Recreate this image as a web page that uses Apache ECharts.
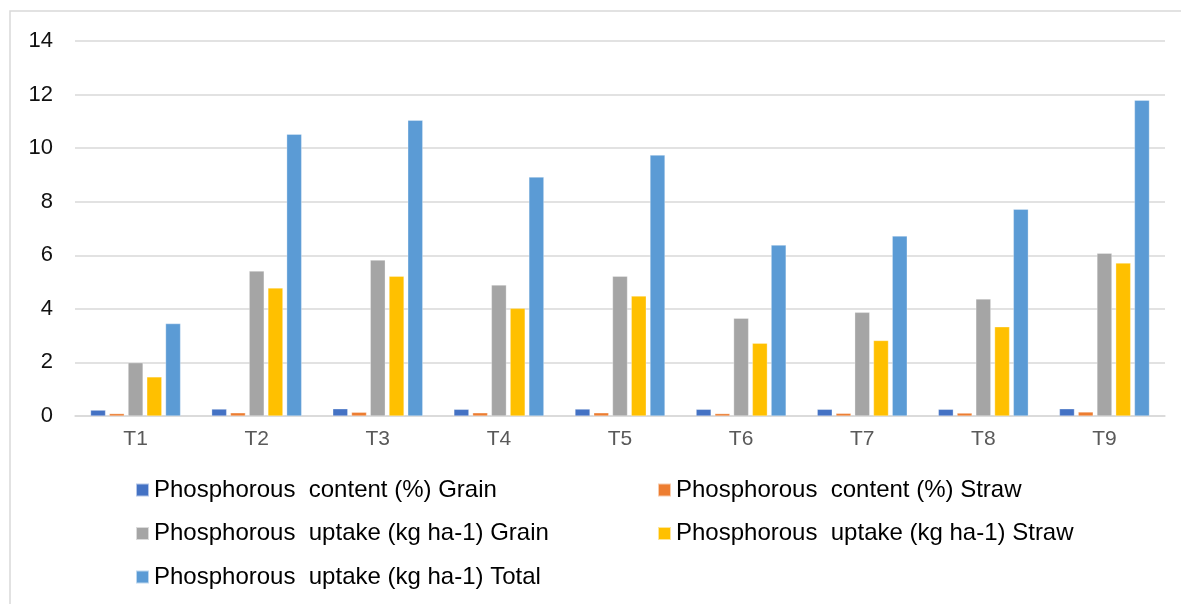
<!DOCTYPE html>
<html>
<head>
<meta charset="utf-8">
<title>Phosphorous content and uptake</title>
<script src="https://cdn.jsdelivr.net/npm/echarts@6/dist/echarts.min.js"></script>
<style>
	* { margin: 0; padding: 0; border: 0; }
	html, body { width: 100%; height: 100%; background: #fff; }
	#main { width: 1181px; height: 604px; }
</style>
</head>
<body>
<div id="main"></div>
<script type="text/javascript">
	// categories (treatments)
	var treatments = ['T1', 'T2', 'T3', 'T4', 'T5', 'T6', 'T7', 'T8', 'T9'];

	// series values
	var contentGrain = [0.22, 0.26, 0.27, 0.25, 0.26, 0.25, 0.25, 0.25, 0.27];
	var contentStraw = [0.09, 0.12, 0.14, 0.12, 0.12, 0.09, 0.10, 0.11, 0.15];
	var uptakeGrain  = [1.99, 5.41, 5.82, 4.89, 5.22, 3.65, 3.87, 4.37, 6.08];
	var uptakeStraw  = [1.46, 4.78, 5.22, 4.02, 4.48, 2.72, 2.82, 3.33, 5.71];
	var uptakeTotal  = [3.45, 10.52, 11.04, 8.92, 9.74, 6.38, 6.72, 7.72, 11.79];

	var seriesNames = [
		'Phosphorous  content (%) Grain',
		'Phosphorous  content (%) Straw',
		'Phosphorous  uptake (kg ha-1) Grain',
		'Phosphorous  uptake (kg ha-1) Straw',
		'Phosphorous  uptake (kg ha-1) Total'
	];
	var seriesColors = ['#4472c4', '#ed7d31', '#a5a5a5', '#ffc000', '#5b9bd5'];
	var seriesData = [contentGrain, contentStraw, uptakeGrain, uptakeStraw, uptakeTotal];

	// y axis ticks
	var yMin = 0, yMax = 14, yStep = 2;

	var myChart = echarts.init(document.getElementById('main'));

	// legend: two columns, three rows (one legend per item so columns line up)
	var legendPos = [
		{ left: 135, top: 478 },
		{ left: 657, top: 478 },
		{ left: 135, top: 521.5 },
		{ left: 657, top: 521.5 },
		{ left: 135, top: 565 }
	];
	var legends = [];
	for (var i = 0; i < seriesNames.length; i++) {
		legends.push({
			data: [seriesNames[i]],
			left: legendPos[i].left,
			top: legendPos[i].top,
			padding: 0,
			icon: 'rect',
			itemWidth: 13,
			itemHeight: 13,
			selectedMode: false,
			textStyle: {
				fontFamily: 'Liberation Sans',
				fontSize: 24,
				lineHeight: 24,
				color: '#000'
			}
		});
	}

	var series = [];
	for (var i = 0; i < seriesNames.length; i++) {
		series.push({
			name: seriesNames[i],
			type: 'bar',
			barWidth: 15,
			barGap: '25%',
			itemStyle: {
				color: seriesColors[i],
				borderColor: 'rgba(255,255,255,0.6)',
				borderWidth: 0.5
			},
			data: seriesData[i]
		});
	}

	var option = {
		animation: false,
		backgroundColor: '#fff',
		graphic: [{
			type: 'rect',
			shape: { x: 10, y: 11, width: 1200, height: 700 },
			style: { fill: 'none', stroke: '#d9d9d9', lineWidth: 1.5 },
			silent: true
		}],
		legend: legends,
		grid: {
			left: 75,
			right: 16,
			top: 41,
			bottom: 188
		},
		xAxis: {
			type: 'category',
			data: treatments,
			axisLine: { show: true, lineStyle: { color: '#d9d9d9', width: 1.5 } },
			axisTick: { show: false },
			axisLabel: {
				margin: 13,
				fontFamily: 'Liberation Sans',
				fontSize: 21,
				color: '#595959'
			}
		},
		yAxis: {
			type: 'value',
			min: yMin,
			max: yMax,
			interval: yStep,
			axisLine: { show: false },
			axisTick: { show: false },
			splitLine: { lineStyle: { color: '#d9d9d9', width: 1.5 } },
			axisLabel: {
				margin: 22,
				fontFamily: 'Liberation Sans',
				fontSize: 22,
				color: '#111'
			}
		},
		series: series
	};

	myChart.setOption(option);
</script>
</body>
</html>
